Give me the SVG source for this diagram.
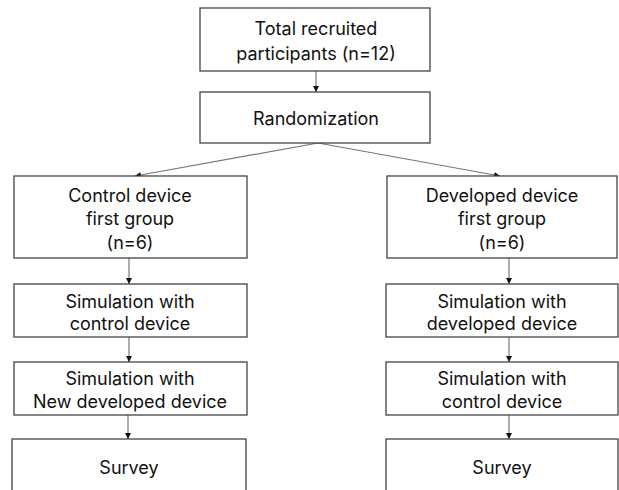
<svg xmlns="http://www.w3.org/2000/svg" width="619" height="490" viewBox="0 0 619 490">
<defs>
<marker id="ah" markerWidth="6" markerHeight="6" refX="6" refY="3" orient="auto" markerUnits="userSpaceOnUse">
<path d="M0,0 L6,3 L0,6 Z" fill="#111"/>
</marker>
<style>
.box{fill:#fff;stroke:#444;stroke-width:1.3}
.t{font-family:Inter,"Noto Sans",sans-serif;font-size:18px;fill:#111;text-anchor:middle}
.c{stroke:#777;stroke-width:1.2;fill:none;marker-end:url(#ah)}
</style>
</defs>
<rect width="619" height="490" fill="#fff"/>
<g id="connectors">
<line class="c" x1="316" y1="71" x2="316" y2="92"/>
<line class="c" x1="318" y1="143" x2="135" y2="176"/>
<line class="c" x1="318" y1="143" x2="500" y2="176"/>
<line class="c" x1="129" y1="258" x2="129" y2="284"/>
<line class="c" x1="129" y1="337" x2="129" y2="362"/>
<line class="c" x1="128" y1="415" x2="128" y2="439"/>
<line class="c" x1="509" y1="258" x2="509" y2="284"/>
<line class="c" x1="509" y1="337" x2="509" y2="362"/>
<line class="c" x1="509" y1="415" x2="509" y2="439"/>
</g>
<g id="total">
<rect class="box" x="200" y="8" width="230" height="63"/>
<text class="t" x="316" y="35">Total recruited</text>
<text class="t" x="316" y="60">participants (n=12)</text>
</g>
<g id="randomization">
<rect class="box" x="200" y="92" width="230" height="51"/>
<text class="t" x="316" y="125">Randomization</text>
</g>
<g id="control-first">
<rect class="box" x="14" y="176" width="233" height="82"/>
<text class="t" x="130" y="202">Control device</text>
<text class="t" x="130" y="225">first group</text>
<text class="t" x="130" y="249">(n=6)</text>
</g>
<g id="developed-first">
<rect class="box" x="387" y="176" width="230" height="82"/>
<text class="t" x="502" y="202">Developed device</text>
<text class="t" x="502" y="225">first group</text>
<text class="t" x="502" y="249">(n=6)</text>
</g>
<g id="left-sim1">
<rect class="box" x="14" y="284" width="233" height="53"/>
<text class="t" x="130" y="308">Simulation with</text>
<text class="t" x="130" y="330">control device</text>
</g>
<g id="left-sim2">
<rect class="box" x="14" y="362" width="233" height="53"/>
<text class="t" x="130" y="385">Simulation with</text>
<text class="t" x="130" y="408">New developed device</text>
</g>
<g id="left-survey">
<rect class="box" x="12" y="439" width="234" height="60"/>
<text class="t" x="129" y="474">Survey</text>
</g>
<g id="right-sim1">
<rect class="box" x="386" y="284" width="232" height="53"/>
<text class="t" x="502" y="308">Simulation with</text>
<text class="t" x="502" y="330">developed device</text>
</g>
<g id="right-sim2">
<rect class="box" x="386" y="362" width="232" height="53"/>
<text class="t" x="502" y="385">Simulation with</text>
<text class="t" x="502" y="408">control device</text>
</g>
<g id="right-survey">
<rect class="box" x="386" y="439" width="232" height="60"/>
<text class="t" x="502" y="474">Survey</text>
</g>
</svg>
